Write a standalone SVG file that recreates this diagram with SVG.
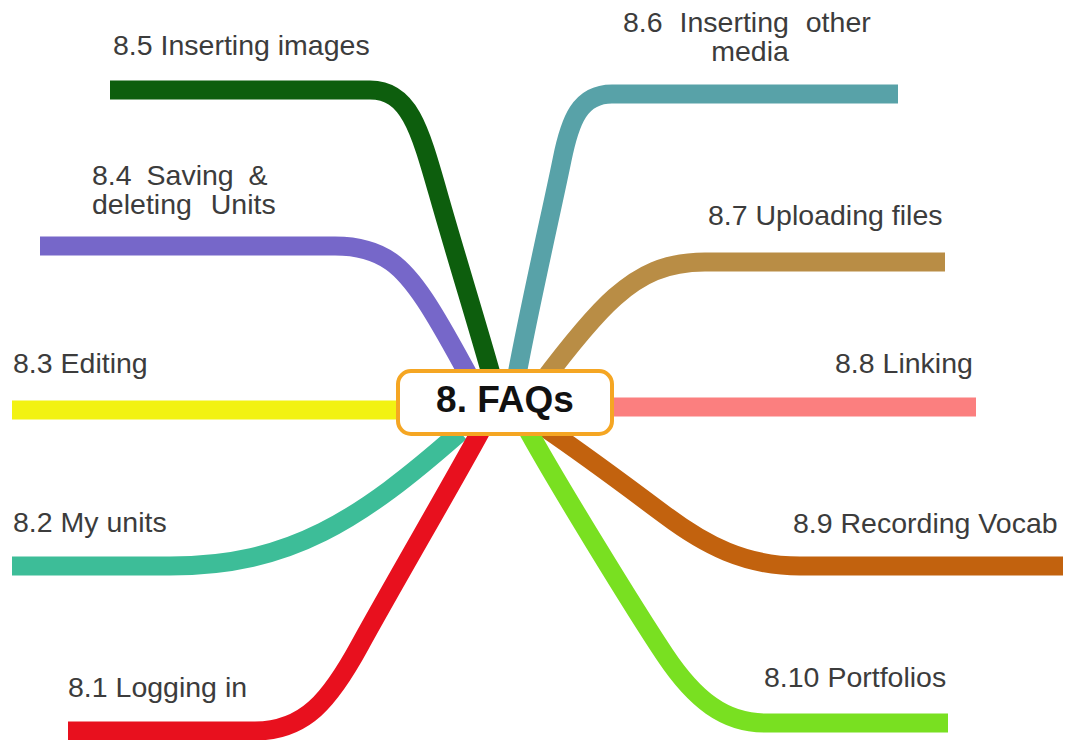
<svg xmlns="http://www.w3.org/2000/svg" width="1067" height="740" viewBox="0 0 1067 740">
<style>
.br{fill:none;stroke-width:19;stroke-linecap:butt;stroke-linejoin:round}
.lb{font-family:"Liberation Sans",Arial,sans-serif;font-size:28.5px;fill:#3c3c3c}
.ct{font-family:"Liberation Sans",Arial,sans-serif;font-size:37px;font-weight:bold;fill:#111;text-anchor:middle}
</style>
<rect width="1067" height="740" fill="#ffffff"/>
<g id="connectors">
<path class="br" stroke="#0d5e0d" d="M110,90 H370 C410,90 420,130 440,200 S485,350 496,392"/>
<path class="br" stroke="#7667c9" d="M40,246 H335 C385,246 405,270 425,300 S465,370 478,392"/>
<path class="br" stroke="#f2f212" d="M12,410 H420"/>
<path class="br" stroke="#3dbd98" d="M12,566 H170 C290,566 360,520 460,432"/>
<path class="br" stroke="#e8101e" d="M68,731 H255 C305,731 330,700 360,645 S460,470 484,425"/>
<path class="br" stroke="#58a2a8" d="M898,94 H612 C580,94 570,120 562,160 S522,340 514,392"/>
<path class="br" stroke="#b98d45" d="M945,262 H705 C665,262 640,275 615,297 S555,365 540,385"/>
<path class="br" stroke="#fb7f7f" d="M976,407 H590"/>
<path class="br" stroke="#c2620e" d="M1063,566 H800 C745,566 705,545 665,515 S570,445 545,428"/>
<path class="br" stroke="#79e021" d="M948,723 H765 C725,723 695,700 665,655 S555,480 525,425"/>
</g>
<g id="center">
<rect x="398" y="371" width="214" height="63" rx="13" ry="13" fill="#ffffff" stroke="#f5a623" stroke-width="4"/>
<text class="ct" x="505" y="412">8. FAQs</text>
</g>
<g id="n85"><text class="lb" x="113" y="55">8.5 Inserting images</text></g>
<g id="n84"><text class="lb" x="92" y="185" word-spacing="7">8.4 Saving &amp;</text><text class="lb" x="92" y="214" word-spacing="11">deleting Units</text></g>
<g id="n83"><text class="lb" x="13" y="373">8.3 Editing</text></g>
<g id="n82"><text class="lb" x="13" y="532">8.2 My units</text></g>
<g id="n81"><text class="lb" x="68" y="697">8.1 Logging in</text></g>
<g id="n86"><text class="lb" x="623" y="32" word-spacing="9">8.6 Inserting other</text><text class="lb" x="750" y="61" text-anchor="middle">media</text></g>
<g id="n87"><text class="lb" x="708" y="225">8.7 Uploading files</text></g>
<g id="n88"><text class="lb" x="835" y="373">8.8 Linking</text></g>
<g id="n89"><text class="lb" x="793" y="533">8.9 Recording Vocab</text></g>
<g id="n810"><text class="lb" x="764" y="687">8.10 Portfolios</text></g>
</svg>
